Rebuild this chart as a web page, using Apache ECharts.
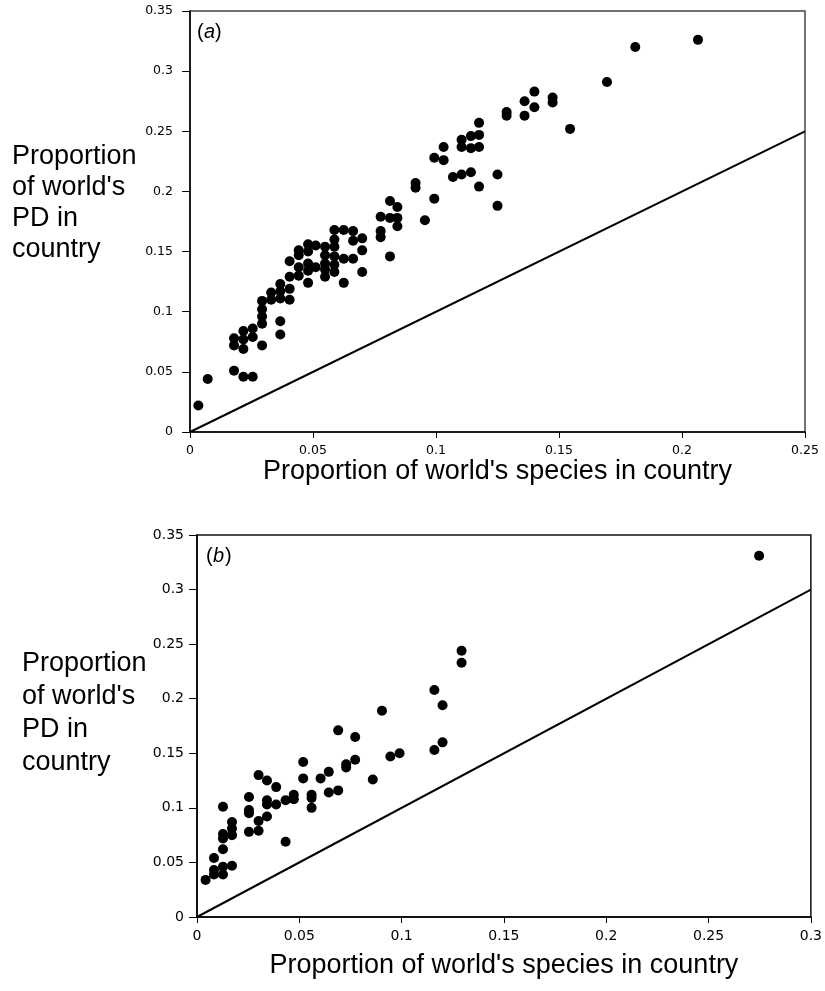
<!DOCTYPE html>
<html>
<head>
<meta charset="utf-8">
<script src="https://cdn.jsdelivr.net/npm/echarts@6/dist/echarts.min.js"></script>
<style>
  html, body { margin: 0; padding: 0; background: #fff; }
  #chart { width: 825px; height: 991px; }
</style>
</head>
<body>
<div id="chart"></div>
<script>
// panel (a): proportion of world's species / PD per country
const aSpecies = [0.0034, 0.0072, 0.0179, 0.0217, 0.0255, 0.0179, 0.0179, 0.0217, 0.0217, 0.0217,
  0.0255, 0.0255, 0.0293, 0.0293, 0.0293, 0.0293, 0.0293, 0.033, 0.033, 0.0367,
  0.0367, 0.0367, 0.0367, 0.0367, 0.0405, 0.0405, 0.0405, 0.0405, 0.0442, 0.0442,
  0.0442, 0.0442, 0.048, 0.048, 0.048, 0.048, 0.048, 0.0511, 0.0511, 0.0549,
  0.0549, 0.0549, 0.0549, 0.0549, 0.0587, 0.0587, 0.0587, 0.0587, 0.0587, 0.0587,
  0.0625, 0.0625, 0.0625, 0.0663, 0.0663, 0.0663, 0.070, 0.070, 0.070, 0.0775,
  0.0775, 0.0775, 0.0813, 0.0813, 0.0813, 0.0843, 0.0843, 0.0843, 0.0955, 0.0917,
  0.0917, 0.0993, 0.0993, 0.1031, 0.1031, 0.1069, 0.1104, 0.1104, 0.1104, 0.1142,
  0.1142, 0.1142, 0.1175, 0.1175, 0.1175, 0.1175, 0.125, 0.125, 0.1287, 0.1287,
  0.136, 0.136, 0.140, 0.140, 0.1474, 0.1474, 0.1545, 0.1695, 0.181, 0.2065];
const aPD = [0.022, 0.044, 0.051, 0.046, 0.046, 0.078, 0.072, 0.084, 0.077, 0.069,
  0.086, 0.079, 0.072, 0.109, 0.102, 0.096, 0.090, 0.116, 0.110, 0.123,
  0.117, 0.111, 0.092, 0.081, 0.142, 0.129, 0.119, 0.110, 0.151, 0.147,
  0.137, 0.130, 0.156, 0.150, 0.140, 0.134, 0.124, 0.155, 0.137, 0.154,
  0.147, 0.140, 0.135, 0.129, 0.168, 0.160, 0.154, 0.146, 0.139, 0.133,
  0.168, 0.144, 0.124, 0.167, 0.159, 0.144, 0.161, 0.151, 0.133, 0.179,
  0.167, 0.162, 0.192, 0.178, 0.146, 0.187, 0.178, 0.171, 0.176, 0.207,
  0.203, 0.228, 0.194, 0.237, 0.226, 0.212, 0.243, 0.237, 0.214, 0.246,
  0.236, 0.216, 0.257, 0.247, 0.237, 0.204, 0.214, 0.188, 0.266, 0.263,
  0.275, 0.263, 0.283, 0.270, 0.278, 0.274, 0.252, 0.291, 0.320, 0.326];

// panel (b)
const bSpecies = [0.0042, 0.0083, 0.0083, 0.0083, 0.0127, 0.0127, 0.0127, 0.0127, 0.0127, 0.0127,
  0.0171, 0.0171, 0.0171, 0.0171, 0.0254, 0.0254, 0.0254, 0.0254, 0.0301, 0.0301,
  0.0301, 0.0342, 0.0342, 0.0342, 0.0342, 0.0387, 0.0387, 0.0433, 0.0433, 0.0473,
  0.0473, 0.0519, 0.0519, 0.056, 0.056, 0.056, 0.0604, 0.0644, 0.0644, 0.069,
  0.069, 0.0729, 0.0729, 0.0773, 0.0773, 0.0859, 0.0904, 0.0945, 0.099, 0.116,
  0.116, 0.12, 0.12, 0.1293, 0.1293, 0.2747];
const bPD = [0.034, 0.054, 0.043, 0.039, 0.101, 0.076, 0.072, 0.062, 0.046, 0.039,
  0.087, 0.081, 0.075, 0.047, 0.110, 0.098, 0.095, 0.078, 0.130, 0.088,
  0.079, 0.125, 0.107, 0.103, 0.092, 0.119, 0.103, 0.107, 0.069, 0.112,
  0.108, 0.142, 0.127, 0.112, 0.109, 0.100, 0.127, 0.133, 0.114, 0.171,
  0.116, 0.140, 0.137, 0.165, 0.144, 0.126, 0.189, 0.147, 0.150, 0.208,
  0.153, 0.194, 0.160, 0.244, 0.233, 0.331];

// 1:1 reference lines
const aOneToOne = [0, 0.25];
const bOneToOne = [0, 0.3];

const yTitle = "Proportion\nof world's\nPD in\ncountry";
const xTitle = "Proportion of world's species in country";

function pairs(xs, ys){ return xs.map((x, i) => [x, ys[i]]); }

let myChart = echarts.init(document.getElementById('chart'));

function xAxisCfg(grid, max, fs, nameGap){
  return {
    gridIndex: grid, type: 'value', min: 0, max: max, interval: 0.05,
    name: xTitle, nameLocation: 'middle', nameGap: nameGap,
    nameTextStyle: { fontFamily: 'Liberation Sans', fontSize: 27, color: '#000' },
    axisLine: { show: true, onZero: false, lineStyle: { color: '#000', width: 1.5 } },
    axisTick: { show: true, inside: false, length: 6, lineStyle: { color: '#000' } },
    axisLabel: { margin: 12, fontFamily: 'DejaVu Sans', fontSize: fs, color: '#000' },
    splitLine: { show: false }
  };
}
function yAxisCfg(grid, fs, margin){
  return {
    gridIndex: grid, type: 'value', min: 0, max: 0.35, interval: 0.05,
    axisLine: { show: true, onZero: false, lineStyle: { color: '#000', width: 1.5 } },
    axisTick: { show: true, inside: false, length: 8, lineStyle: { color: '#000' } },
    axisLabel: { margin: margin, fontFamily: 'DejaVu Sans', fontSize: fs, color: '#000' },
    splitLine: { show: false }
  };
}

let option = {
  backgroundColor: '#fff',
  animation: false,
  grid: [
    { left: 190, top: 11, width: 615, height: 421, show: true, borderColor: '#444', borderWidth: 1.5 },
    { left: 197, top: 535, width: 616, height: 382, show: true, borderColor: '#111', borderWidth: 1.5 }
  ],
  xAxis: [ xAxisCfg(0, 0.25, 12.5, 22), xAxisCfg(1, 0.3, 14, 35) ],
  yAxis: [ yAxisCfg(0, 12.5, 17), yAxisCfg(1, 14, 13) ],
  graphic: [
    { type: 'text', left: 12, top: 141,
      style: { text: yTitle, font: '27px "Liberation Sans"', lineHeight: 31, fill: '#000' } },
    { type: 'text', left: 22, top: 647,
      style: { text: yTitle, font: '27px "Liberation Sans"', lineHeight: 33, fill: '#000' } },
    { type: 'text', left: 197, top: 22,
      style: { text: '(', font: '20px "Liberation Sans"', fill: '#000' } },
    { type: 'text', left: 204, top: 22,
      style: { text: 'a', font: 'italic 20px "Liberation Sans"', fill: '#000' } },
    { type: 'text', left: 215, top: 22,
      style: { text: ')', font: '20px "Liberation Sans"', fill: '#000' } },
    { type: 'text', left: 206, top: 546,
      style: { text: '(', font: '20px "Liberation Sans"', fill: '#000' } },
    { type: 'text', left: 213, top: 546,
      style: { text: 'b', font: 'italic 20px "Liberation Sans"', fill: '#000' } },
    { type: 'text', left: 225, top: 546,
      style: { text: ')', font: '20px "Liberation Sans"', fill: '#000' } }
  ],
  series: [
    {
      type: 'line', xAxisIndex: 0, yAxisIndex: 0, symbol: 'none',
      lineStyle: { color: '#000', width: 2 },
      data: aOneToOne.map(v => [v, v])
    },
    {
      type: 'scatter', xAxisIndex: 0, yAxisIndex: 0, symbolSize: 10,
      itemStyle: { color: '#000', opacity: 1 },
      data: pairs(aSpecies, aPD)
    },
    {
      type: 'line', xAxisIndex: 1, yAxisIndex: 1, symbol: 'none',
      lineStyle: { color: '#000', width: 2 },
      data: bOneToOne.map(v => [v, v])
    },
    {
      type: 'scatter', xAxisIndex: 1, yAxisIndex: 1, symbolSize: 10,
      itemStyle: { color: '#000', opacity: 1 },
      data: pairs(bSpecies, bPD)
    }
  ]
};

myChart.setOption(option);
</script>
</body>
</html>
